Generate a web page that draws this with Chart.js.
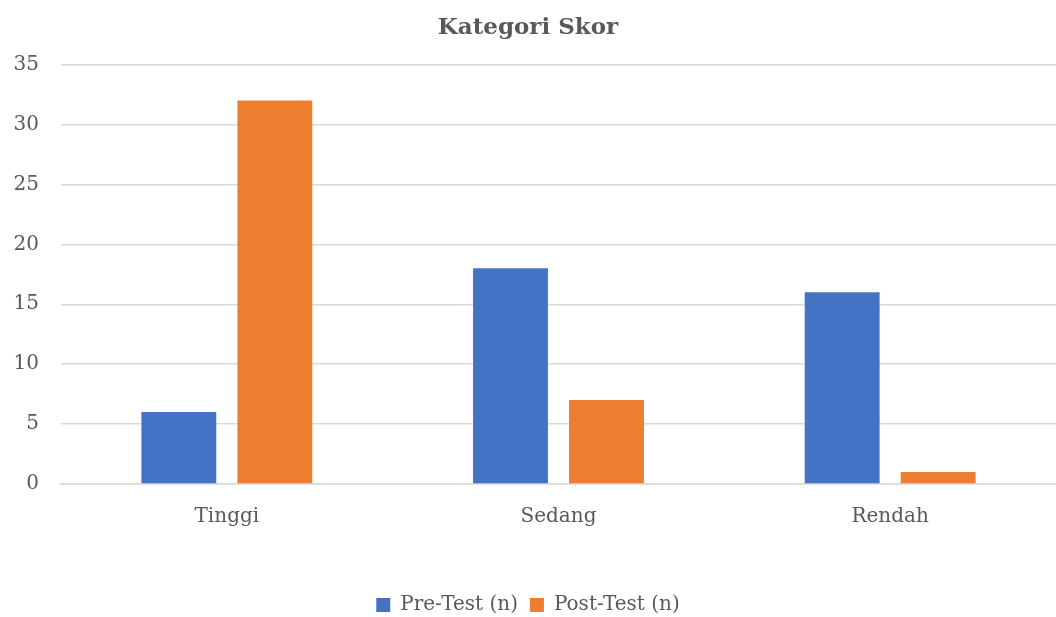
<!DOCTYPE html>
<html>
<head>
<meta charset="utf-8">
<script src="https://cdn.jsdelivr.net/npm/chart.js@4"></script>
<style>
  html, body { margin: 0; padding: 0; background: #fff; }
  #wrap { width: 1056px; height: 617px; }
</style>
</head>
<body>
<div id="wrap"><canvas id="chart"></canvas></div>
<script>
const categories = ["Tinggi", "Sedang", "Rendah"];
const preTest = [6, 18, 16];
const postTest = [32, 7, 1];
const seriesNames = ["Pre-Test (n)", "Post-Test (n)"];

const fontFamily = "'DejaVu Serif', serif";
const textColor = "#595959";

const ctx = document.getElementById("chart");

new Chart(ctx, {
    type: "bar",
    data: {
        labels: categories,
        datasets: [
            { label: seriesNames[0], data: preTest, backgroundColor: "#4472c4" },
            { label: seriesNames[1], data: postTest, backgroundColor: "#ed7d31" }
        ]
    },
    options: {
        responsive: true,
        maintainAspectRatio: false,
        animation: false,
        layout: { padding: { top: 14, right: 0, left: 0, bottom: -8 } },
        datasets: {
            bar: { categoryPercentage: 0.579, barPercentage: 0.78 }
        },
        plugins: {
            title: {
                display: true,
                text: "Kategori Skor",
                color: textColor,
                font: { family: fontFamily, size: 23, weight: "bold" },
                padding: { top: 0, bottom: 23 }
            },
            legend: {
                position: "bottom",
                labels: {
                    color: textColor,
                    font: { family: fontFamily, size: 20 },
                    boxWidth: 14,
                    boxHeight: 14,
                    padding: 12
                }
            },
            tooltip: { enabled: false }
        },
        scales: {
            x: {
                grid: { display: false },
                border: { color: "#d9d9d9", width: 1.5 },
                ticks: {
                    color: textColor,
                    font: { family: fontFamily, size: 20 },
                    padding: 13
                },
                afterFit: (scale) => { scale.height = 99; }
            },
            y: {
                min: 0,
                max: 35,
                ticks: {
                    stepSize: 5,
                    color: textColor,
                    font: { family: fontFamily, size: 20 },
                    padding: 22
                },
                grid: { color: "#d9d9d9", lineWidth: 1.5, drawTicks: false },
                border: { display: false },
                afterFit: (scale) => { scale.width = 61; }
            }
        }
    }
});
</script>
</body>
</html>
